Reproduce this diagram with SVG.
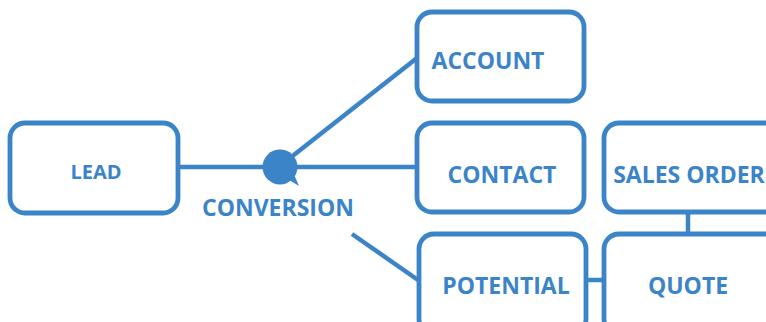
<svg xmlns="http://www.w3.org/2000/svg" width="766" height="322" viewBox="0 0 766 322">
<style>
.box{fill:#fff;stroke:#3b84c8;stroke-width:4.8}
.t{font-family:"Open Sans","Noto Sans",sans-serif;font-weight:bold;fill:#3b84c8;text-anchor:middle;dominant-baseline:central;font-size:23px}
.c{stroke:#3b84c8;stroke-width:4.5;fill:none}
</style>
<rect width="766" height="322" fill="#fff"/>
<g id="connectors">
<line class="c" x1="178" y1="167" x2="417" y2="167"/>
<line class="c" x1="290" y1="158" x2="417" y2="58"/>
<line class="c" x1="352" y1="234" x2="418" y2="280"/>
<line class="c" x1="587" y1="280" x2="603" y2="280"/>
<line class="c" x1="688" y1="212" x2="688" y2="233"/>
</g>
<g id="conversion">
<circle cx="280" cy="167" r="17.5" fill="#3b84c8"/>
<path d="M286 178 L299 186 L293 172 Z" fill="#3b84c8"/>
<text class="t" x="278" y="207">CONVERSION</text>
</g>
<g id="lead">
<rect class="box" x="10" y="123" width="168" height="90" rx="15"/>
<text class="t" x="96" y="171" style="font-size:20px">LEAD</text>
</g>
<g id="account">
<rect class="box" x="417" y="12" width="167" height="89" rx="15"/>
<text class="t" x="488" y="60">ACCOUNT</text>
</g>
<g id="contact">
<rect class="box" x="417" y="123" width="167" height="89" rx="15"/>
<text class="t" x="502" y="174">CONTACT</text>
</g>
<g id="sales-order">
<rect class="box" x="604" y="123" width="180" height="89" rx="15"/>
<text class="t" x="689" y="174">SALES ORDER</text>
</g>
<g id="potential">
<rect class="box" x="419" y="234" width="167" height="100" rx="15"/>
<text class="t" x="506" y="285">POTENTIAL</text>
</g>
<g id="quote">
<rect class="box" x="604" y="234" width="180" height="100" rx="15"/>
<text class="t" x="688" y="285">QUOTE</text>
</g>
</svg>
